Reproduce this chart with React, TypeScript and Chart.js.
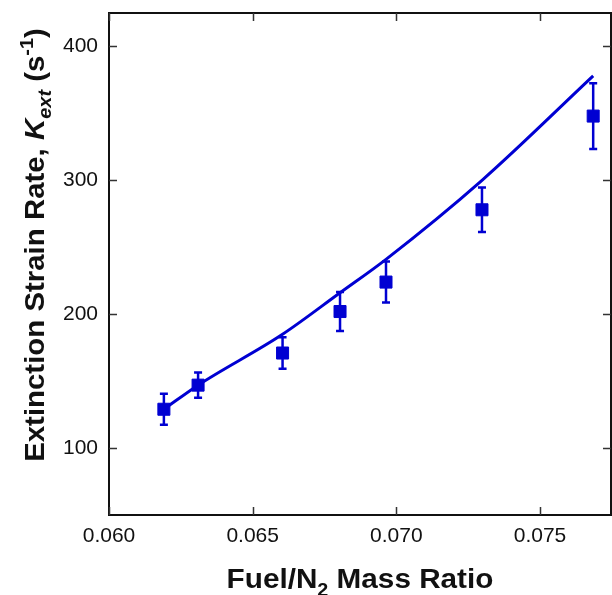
import React, { useEffect, useRef } from "react";
import { Chart, registerables } from "chart.js";
Chart.register(...registerables);

// Measured data (Fuel/N2 mass ratio vs extinction strain rate)
const fuelRatio = [0.06191, 0.0631, 0.06604, 0.06804, 0.06964, 0.07298, 0.07685];
const measuredKext = [129, 147, 171, 202, 224, 278, 348];
const errorKext = [11.5, 9.5, 11.7, 14.5, 15.3, 16.6, 24.6];

// Model curve
const modelRatio = [0.06191, 0.0631, 0.06604, 0.06804, 0.06964, 0.07298, 0.07685];
const modelKext = [129, 147, 185, 216, 241, 300, 378];

// Axes
const xTicks = [0.06, 0.065, 0.07, 0.075];
const yTicks = [100, 200, 300, 400];
const xMin = 0.06;
const xMax = 0.07747;
const yMin = 50;
const yMax = 425;

const BLUE = "rgb(0,0,210)";

type Seg = { t: string; style?: string; scale?: number; dy?: number };

function drawRich(ctx: CanvasRenderingContext2D, segs: Seg[], size: number, family: string) {
  const fontFor = (s: Seg) =>
    `${s.style ? s.style + " " : ""}bold ${Math.round(size * (s.scale || 1))}px ${family}`;
  let total = 0;
  for (const s of segs) {
    ctx.font = fontFor(s);
    total += ctx.measureText(s.t).width;
  }
  let x = -total / 2;
  for (const s of segs) {
    ctx.font = fontFor(s);
    ctx.fillText(s.t, x, (s.dy || 0) * size);
    x += ctx.measureText(s.t).width;
  }
}

const decorPlugin = {
  id: "decor",
  afterDatasetsDraw(chart: any) {
    const { ctx, chartArea, scales } = chart;
    const xs = scales.x;
    const ys = scales.y;
    ctx.save();
    // error bars
    ctx.strokeStyle = BLUE;
    ctx.lineWidth = 2.5;
    for (let i = 0; i < fuelRatio.length; i++) {
      const px = xs.getPixelForValue(fuelRatio[i]);
      const top = ys.getPixelForValue(measuredKext[i] + errorKext[i]);
      const bot = ys.getPixelForValue(measuredKext[i] - errorKext[i]);
      ctx.beginPath();
      ctx.moveTo(px, top);
      ctx.lineTo(px, bot);
      ctx.moveTo(px - 4, top);
      ctx.lineTo(px + 4, top);
      ctx.moveTo(px - 4, bot);
      ctx.lineTo(px + 4, bot);
      ctx.stroke();
    }
    // frame
    ctx.strokeStyle = "#111";
    ctx.lineWidth = 2;
    ctx.strokeRect(chartArea.left, chartArea.top, chartArea.right - chartArea.left, chartArea.bottom - chartArea.top);
    // inward ticks
    ctx.lineWidth = 1.5;
    ctx.strokeStyle = "#333";
    const tl = 8;
    ctx.beginPath();
    for (const v of xTicks) {
      const px = Math.round(xs.getPixelForValue(v)) + 0.5;
      ctx.moveTo(px, chartArea.bottom);
      ctx.lineTo(px, chartArea.bottom - tl);
      ctx.moveTo(px, chartArea.top);
      ctx.lineTo(px, chartArea.top + tl);
    }
    for (const v of yTicks) {
      const py = Math.round(ys.getPixelForValue(v)) + 0.5;
      ctx.moveTo(chartArea.left, py);
      ctx.lineTo(chartArea.left + tl, py);
      ctx.moveTo(chartArea.right, py);
      ctx.lineTo(chartArea.right - tl, py);
    }
    ctx.stroke();

    // axis titles
    const family = "'Liberation Sans', Arial, sans-serif";
    ctx.fillStyle = "#111";
    ctx.textBaseline = "alphabetic";
    ctx.textAlign = "left";
    // x title
    ctx.save();
    ctx.translate((chartArea.left + chartArea.right) / 2, 588);
    ctx.scale(1.1, 1);
    drawRich(
      ctx,
      [
        { t: "Fuel/N" },
        { t: "2", scale: 0.68, dy: 0.28 },
        { t: " Mass Ratio" },
      ],
      27,
      family
    );
    ctx.restore();
    // y title
    ctx.save();
    ctx.translate(44, 245);
    ctx.rotate(-Math.PI / 2);
    ctx.scale(1.05, 1);
    drawRich(
      ctx,
      [
        { t: "Extinction Strain Rate, " },
        { t: "K", style: "italic" },
        { t: "ext", style: "italic", scale: 0.68, dy: 0.25 },
        { t: " (s" },
        { t: "-1", scale: 0.68, dy: -0.4 },
        { t: ")" },
      ],
      28,
      family
    );
    ctx.restore();
    ctx.restore();
  },
};

const zeroPad = (s: any) => {
  s.paddingTop = 0;
  s.paddingBottom = 0;
  s.paddingLeft = 0;
  s.paddingRight = 0;
};

export default function App() {
  const ref = useRef<HTMLCanvasElement | null>(null);
  useEffect(() => {
    document.body.style.margin = "0";
    const canvas = ref.current;
    if (!canvas) return;
    const chart = new Chart(canvas, {
      type: "scatter",
      data: {
        datasets: [
          {
            type: "line",
            label: "Model",
            data: modelRatio.map((x, i) => ({ x, y: modelKext[i] })),
            borderColor: BLUE,
            borderWidth: 3,
            pointRadius: 0,
            fill: false,
            cubicInterpolationMode: "monotone",
          },
          {
            type: "scatter",
            label: "Measured",
            data: fuelRatio.map((x, i) => ({ x, y: measuredKext[i] })),
            backgroundColor: BLUE,
            borderColor: BLUE,
            borderWidth: 1,
            pointStyle: "rect",
            pointRadius: 8.5,
          },
        ],
      } as any,
      options: {
        responsive: false,
        animation: false,
        devicePixelRatio: 1,
        layout: { autoPadding: false, padding: { top: 13, right: 1, left: 0, bottom: 0 } },
        plugins: { legend: { display: false }, tooltip: { enabled: false } },
        scales: {
          x: {
            type: "linear",
            min: xMin,
            max: xMax,
            grid: { display: false, drawTicks: false },
            border: { display: false },
            ticks: {
              padding: 9,
              color: "#111",
              font: { family: "'Liberation Sans', Arial, sans-serif", size: 21 },
              callback: (v: any) => Number(v).toFixed(3),
            },
            afterBuildTicks: (s: any) => {
              s.ticks = xTicks.map((value) => ({ value }));
            },
            afterFit: (s: any) => {
              s.height = 80;
              zeroPad(s);
            },
          },
          y: {
            type: "linear",
            min: yMin,
            max: yMax,
            grid: { display: false, drawTicks: false },
            border: { display: false },
            ticks: {
              padding: 11,
              color: "#111",
              font: { family: "'Liberation Sans', Arial, sans-serif", size: 21 },
            },
            afterBuildTicks: (s: any) => {
              s.ticks = yTicks.map((value) => ({ value }));
            },
            afterFit: (s: any) => {
              s.width = 109;
              zeroPad(s);
            },
          },
        },
      } as any,
      plugins: [decorPlugin],
    });
    return () => chart.destroy();
  }, []);
  return <canvas ref={ref} width={612} height={595} style={{ display: "block" }} />;
}
